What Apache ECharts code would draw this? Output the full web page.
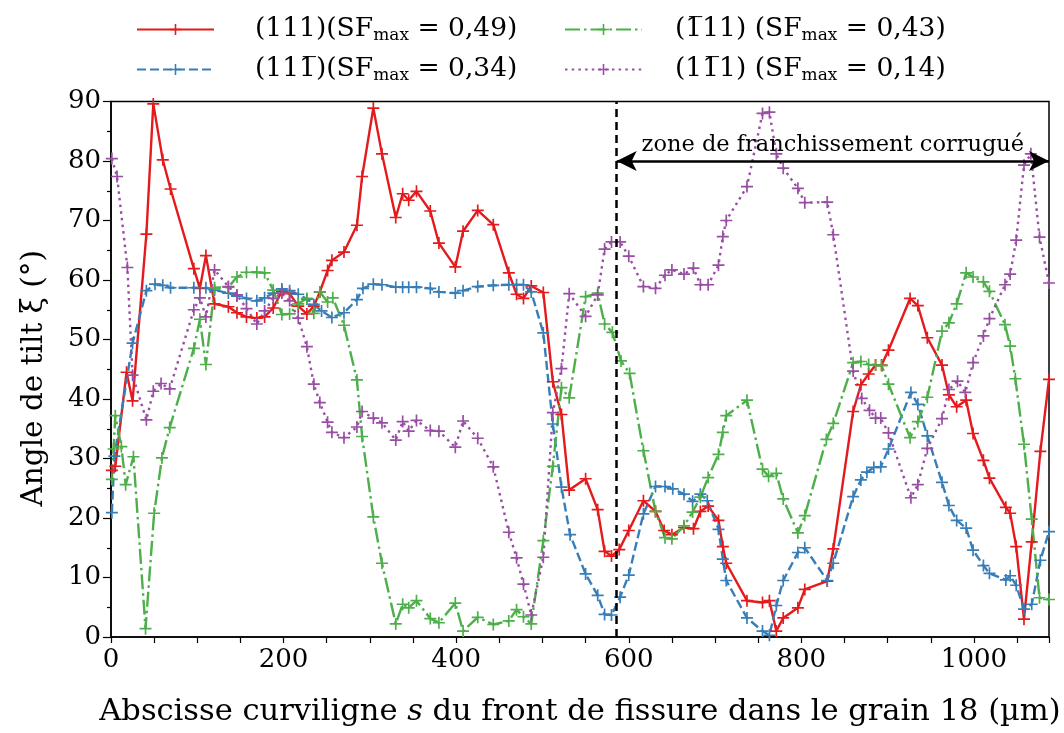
<!DOCTYPE html>
<html>
<head>
<meta charset="utf-8">
<script src="https://cdn.jsdelivr.net/npm/echarts@6/dist/echarts.min.js"></script>
<style>html,body{margin:0;padding:0;background:#fff}#c{width:1064px;height:733px}</style>
</head>
<body>
<div id="c"></div>
<script>
// ---- data ----
const sRed = [1,5,18,25,41,49,60,69,96,103,110,120,136,146,157,169,178,188,198,207,217,227,235,242,251,256,270,285,291,304,314,330,338,345,354,370,380,399,408,425,443,461,470,478,487,501,512,522,531,550,564,572,580,589,600,617,631,641,650,664,675,683,692,704,709,713,737,755,763,771,779,796,804,830,837,860,869,878,886,893,901,926,935,946,963,971,980,991,999,1011,1018,1037,1042,1049,1058,1067,1077,1087];
const vRed = [28.0,28.7,44.5,39.7,67.7,89.6,80.2,75.3,61.9,58.6,64.1,56.0,55.5,54.5,53.8,53.6,53.8,55.3,58.1,57.7,55.6,54.3,55.6,58.0,61.6,63.3,64.7,69.2,77.4,88.9,81.2,70.5,74.5,73.4,74.9,71.6,66.2,62.2,68.2,71.7,69.3,61.2,57.6,56.9,59.0,57.9,42.9,37.4,24.7,26.6,21.4,14.4,13.6,14.7,17.9,22.9,21.1,17.9,17.2,18.4,18.2,21.1,22.0,19.6,15.2,12.4,6.1,5.8,6.1,1.0,3.2,4.9,8.0,9.4,14.8,37.9,42.4,44.2,45.7,45.7,48.2,56.9,55.7,50.3,45.7,40.7,38.7,39.8,34.2,29.7,26.7,21.8,20.8,15.2,3.0,16.0,31.2,43.3];

const sBlue = [1,4,25,41,51,60,69,96,110,120,136,146,157,169,178,188,198,207,217,227,235,244,256,270,285,292,304,314,330,338,345,354,370,380,399,408,425,443,461,470,478,487,501,512,522,532,550,564,572,580,590,600,617,631,642,651,664,674,683,691,704,709,713,737,755,763,771,779,796,804,830,837,860,869,876,884,892,901,927,935,946,963,971,980,991,999,1011,1018,1037,1042,1049,1058,1067,1077,1087];
const vBlue = [20.9,30.4,49.4,58.2,59.3,59.1,58.7,58.7,58.7,58.3,57.8,57.3,56.9,56.5,57.0,57.8,58.5,58.2,57.6,56.8,55.9,54.8,53.7,54.5,56.7,58.6,59.3,59.2,58.8,58.8,58.8,58.8,58.6,58.0,57.8,58.2,58.9,59.1,59.2,59.2,59.2,58.0,51.1,35.8,25.2,17.2,10.6,7.0,3.8,3.7,6.7,10.4,20.7,25.3,25.3,24.9,24.0,22.8,24.0,22.9,18.1,13.1,9.5,3.2,1.0,0.3,5.3,9.5,14.2,15.0,9.5,12.4,23.6,26.4,27.7,28.5,28.6,31.6,41.1,39.1,33.8,26.0,22.1,19.6,18.3,14.6,12.0,10.7,9.6,10.3,8.7,4.7,5.5,12.9,17.7];

const sGreen = [1,3,5,12,17,26,40,50,59,68,96,103,110,120,136,146,157,169,178,188,198,207,217,227,235,242,251,257,270,285,291,304,314,330,338,345,354,370,380,399,408,425,443,461,470,478,487,501,512,522,531,550,564,572,581,591,601,617,631,642,650,664,674,683,692,704,709,713,737,755,762,771,779,796,804,829,837,860,869,878,886,893,901,926,935,946,963,971,980,991,999,1011,1018,1036,1042,1048,1058,1067,1076,1087];
const vGreen = [26.5,31.6,37.2,32.0,25.6,30.3,1.4,20.8,30.1,35.2,48.5,53.4,45.8,58.7,58.8,60.5,61.3,61.3,61.2,58.3,54.2,54.3,56.0,56.9,54.4,58.0,56.3,57.0,52.4,43.2,33.7,20.2,12.4,2.2,5.5,4.9,6.1,3.1,2.4,5.7,1.0,3.3,2.1,2.7,4.6,3.4,2.2,16.2,28.7,41.9,40.2,57.2,57.8,52.6,51.2,46.4,44.3,31.3,21.1,16.7,16.5,18.7,21.0,23.5,26.8,30.7,34.4,37.2,39.8,28.2,27.0,27.5,23.2,17.5,20.4,33.2,35.9,46.1,46.3,45.8,45.7,45.6,42.5,33.5,36.2,40.3,51.4,52.8,56.0,61.2,60.5,59.7,58.1,52.5,48.9,43.4,32.4,19.8,6.6,6.3];

const sPurple = [1,7,19,25,41,49,58,68,96,103,110,120,136,146,157,169,178,188,198,207,217,227,235,242,251,256,270,285,291,304,314,330,338,345,354,370,380,399,408,425,443,461,470,478,487,501,512,522,531,550,564,572,580,590,600,617,631,642,650,664,675,683,692,704,709,713,737,755,763,771,779,796,804,830,837,860,870,879,886,892,901,927,935,946,963,971,981,990,999,1011,1018,1036,1042,1049,1058,1066,1076,1087];
const vPurple = [80.4,77.4,62.1,44.0,36.5,41.3,42.6,41.7,55.0,57.0,53.8,61.7,58.9,57.5,55.2,52.6,54.8,56.9,57.8,56.5,53.6,48.8,42.5,39.4,36.1,34.4,33.5,35.3,37.9,36.8,36.0,33.1,36.2,34.6,36.4,34.7,34.6,31.9,36.3,33.4,28.6,17.6,13.3,8.9,3.7,13.4,37.7,45.1,57.7,53.9,57.5,65.2,66.4,66.4,64.0,58.9,58.6,60.8,61.7,61.0,62.0,59.2,59.2,62.5,67.3,70.0,75.7,88.0,88.2,81.2,78.8,75.4,73.0,73.1,67.6,44.7,40.1,38.1,36.8,36.8,34.3,23.4,25.6,31.7,36.7,41.6,43.0,41.1,46.1,50.6,53.5,59.2,61.0,66.7,79.3,81.2,67.2,59.5];

const seriesNames = ['(111)(SF', '(11\u0031\u0305)(SF', '(1\u0305\u0031\u0031) (SF', '(1\u0031\u0305\u0031) (SF'];
const sfValues = ['0,49', '0,34', '0,43', '0,14'];
const xTickLabels = [0, 200, 400, 600, 800, 1000];
const yTickStep = 10;
const X_MAX = 1087;
const Y_MAX = 90;
const ZONE_START = 586;
const ZONE_ARROW_Y = 80;
const ZONE_LABEL = 'zone de franchissement corrugué';
const X_TITLE = 'Abscisse curviligne {i|s} du front de fissure dans le grain 18 (µm)';
const Y_TITLE = 'Angle de tilt ξ (°)';

// ---- chart ----
const FONT = 'DejaVu Serif';
const PLUS = 'path://M4.3,0 H5.7 V4.3 H10 V5.7 H5.7 V10 H4.3 V5.7 H0 V4.3 H4.3 Z';
const zip = (a, b) => a.map((x, i) => [x, b[i]]);
const legendName = i => seriesNames[i] + '|' + sfValues[i];

function mkSeries(i, s, v, color, dash) {
  return {
    name: legendName(i), type: 'line', data: zip(s, v),
    symbol: PLUS, symbolSize: 12, showAllSymbol: true,
    itemStyle: { color: color },
    lineStyle: { color: color, width: 2.4, type: dash },
    z: 3
  };
}

const series = [
  mkSeries(0, sRed, vRed, '#e41a1c', 'solid'),
  mkSeries(1, sBlue, vBlue, '#377eb8', [9, 4]),
  mkSeries(2, sGreen, vGreen, '#4daf4a', [15, 4, 2.5, 4]),
  mkSeries(3, sPurple, vPurple, '#984ea3', [2.5, 4.2])
];
series[0].markLine = {
  silent: true, symbol: 'none', animation: false,
  lineStyle: { color: '#000', width: 2.5, type: [8, 5] },
  label: { show: false },
  data: [{ xAxis: ZONE_START }]
};
series[1].markLine = {
  silent: true, symbol: ['arrow', 'arrow'], symbolSize: [15, 20], animation: false,
  lineStyle: { color: '#000', width: 2.5, type: 'solid' },
  label: { show: true, position: 'insideMiddleTop', formatter: ZONE_LABEL, fontFamily: FONT, fontSize: 22.5, color: '#000', distance: 4 },
  data: [[{ coord: [ZONE_START, ZONE_ARROW_Y] }, { coord: [X_MAX, ZONE_ARROW_Y] }]]
};

const legendFmt = name => {
  const p = name.split('|');
  return '{n|' + p[0] + '}{s|max}{n| = ' + p[1] + ')}';
};
const legendRich = {
  n: { fontFamily: FONT, fontSize: 26.5, color: '#000' },
  s: { fontFamily: FONT, fontSize: 17, color: '#000', padding: [12, 0, 0, 0] }
};
function mkLegend(left, ids, gap) {
  return {
    left: left, top: 11, orient: 'vertical', itemGap: 12,
    itemWidth: 77, itemHeight: 14,
    data: ids.map(legendName),
    formatter: legendFmt,
    textStyle: { rich: legendRich, padding: [0, 0, 0, gap] },
    selectedMode: false
  };
}

const chart = echarts.init(document.getElementById('c'), null, { renderer: 'canvas' });
chart.setOption({
  animation: false,
  backgroundColor: '#fff',
  legend: [mkLegend(131, [0, 1], 36), mkLegend(559, [2, 3], 28)],
  grid: { left: 111, right: 15, top: 101.5, bottom: 94.5, show: true, borderColor: '#000', borderWidth: 1.5, backgroundColor: 'transparent' },
  xAxis: {
    type: 'value', min: 0, max: X_MAX, interval: 50,
    name: X_TITLE, nameLocation: 'middle', nameGap: 60,
    nameTextStyle: { fontFamily: FONT, fontSize: 30.5, color: '#000', rich: { i: { fontFamily: FONT, fontSize: 30.5, fontStyle: 'italic' } } },
    axisLine: { lineStyle: { color: '#000', width: 1.5 } },
    axisTick: { length: 6, lineStyle: { color: '#000', width: 1.2 } },
    axisLabel: { fontFamily: FONT, fontSize: 26, color: '#000', margin: 10,
      formatter: v => (xTickLabels.indexOf(v) >= 0 ? String(v) : '') },
    splitLine: { show: false }
  },
  yAxis: {
    type: 'value', min: 0, max: Y_MAX, interval: yTickStep,
    name: Y_TITLE, nameLocation: 'middle', nameGap: 62,
    nameTextStyle: { fontFamily: FONT, fontSize: 29.5, color: '#000', padding: [0, 18, 0, 0] },
    axisLine: { show: true, lineStyle: { color: '#000', width: 1.5 } },
    axisTick: { show: true, length: 8, lineStyle: { color: '#000', width: 1.2 } },
    minorTick: { show: true, splitNumber: 2, length: 4, lineStyle: { color: '#000', width: 1.2 } },
    axisLabel: { fontFamily: FONT, fontSize: 26, color: '#000', margin: 10 },
    splitLine: { show: false }
  },
  series: series
});
</script>
</body>
</html>
